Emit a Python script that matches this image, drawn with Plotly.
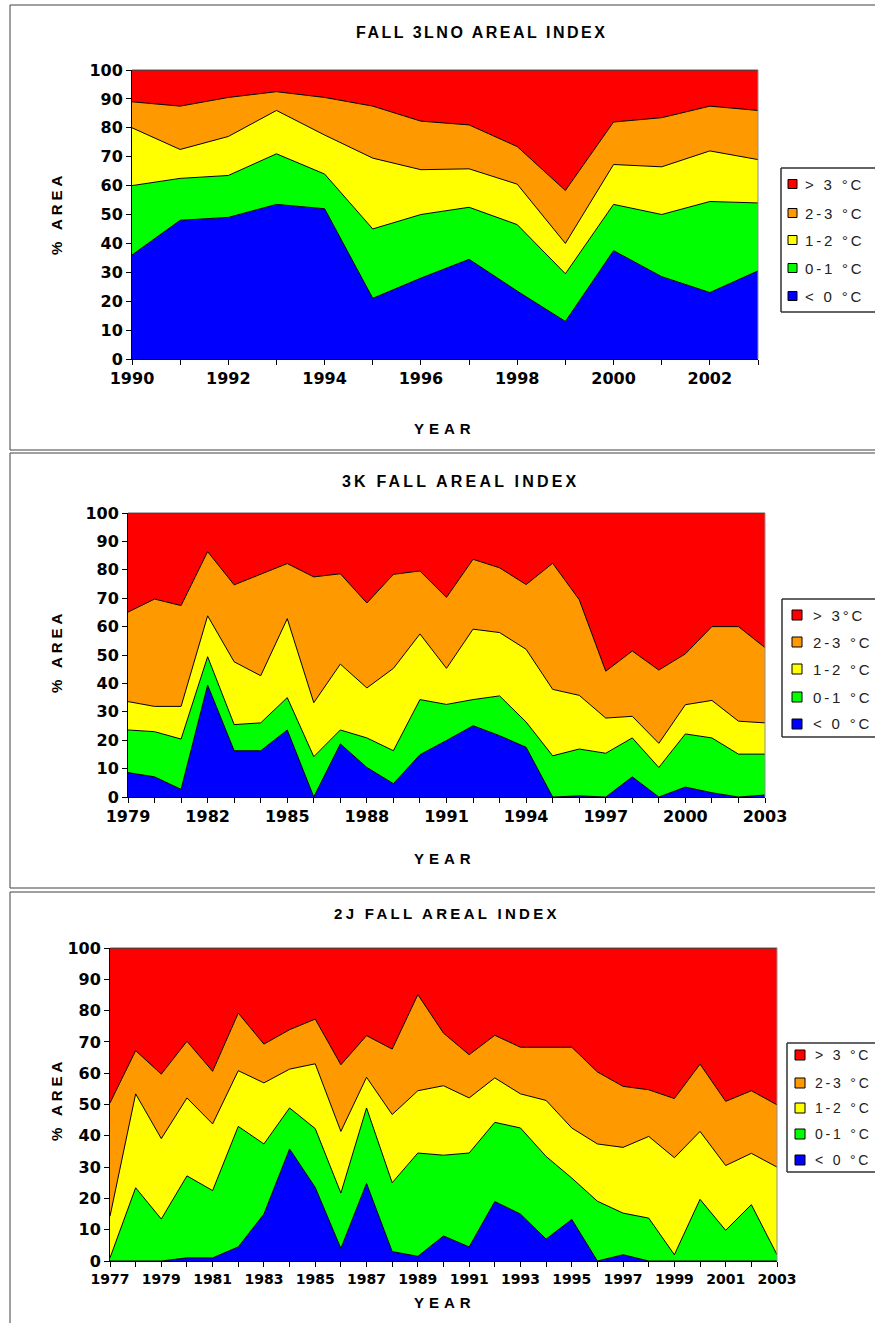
import plotly.graph_objects as go

W, H = 875, 1323

def X(px):
    return min(max(px, 0), W) / W

def Y(py):
    return 1 - min(max(py, 0), H) / H

# ---------------- DATA ----------------
band_names_3lno = ["< 0 °C", "0-1 °C", "1-2 °C", "2-3 °C", "> 3 °C"]
band_names_3k = ["< 0 °C", "0-1 °C", "1-2 °C", "2-3 °C", "> 3°C"]
band_names_2j = ["< 0 °C", "0-1 °C", "1-2 °C", "2-3 °C", "> 3 °C"]
band_colors = ["#0000FF", "#00FF00", "#FFFF00", "#FF9900", "#FF0000"]

# FALL 3LNO
years_3lno = [1990, 1991, 1992, 1993, 1994, 1995, 1996, 1997, 1998, 1999, 2000, 2001, 2002, 2003]
below0_3lno = [36, 48, 49, 53.5, 52, 21, 28, 34.5, 23.5, 13, 37.5, 28.5, 23, 30.5]
b01_3lno = [24, 14.5, 14.5, 17.5, 12, 24, 22, 18, 23, 16.5, 16, 21.5, 31.5, 23.5]
b12_3lno = [20, 10, 13.5, 15, 13.5, 24.5, 15.5, 13.3, 14, 10.5, 13.8, 16.5, 17.5, 15]
b23_3lno = [9, 15, 13.5, 6.5, 13, 18, 16.8, 15.2, 13, 18.3, 14.7, 17, 15.5, 17]
above3_3lno = [11, 12.5, 9.5, 7.5, 9.5, 12.5, 17.7, 19, 26.5, 41.7, 18, 16.5, 12.5, 14]
ticklabels_3lno = ["1990", "", "1992", "", "1994", "", "1996", "", "1998", "", "2000", "", "2002", ""]

# 3K FALL
years_3k = [1979, 1980, 1981, 1982, 1983, 1984, 1985, 1986, 1987, 1988, 1989, 1990, 1991,
            1992, 1993, 1994, 1995, 1996, 1997, 1998, 1999, 2000, 2001, 2002, 2003]
below0_3k = [8.6, 7.1, 2.7, 39.4, 16.3, 16.3, 23.6, 0, 18.7, 10.4, 4.7, 14.9, 19.9,
             25.1, 21.6, 17.5, 0, 0.4, 0, 7.1, 0, 3.5, 1.5, 0, 0.7]
b01_3k = [15.0, 15.9, 17.7, 10.0, 9.2, 9.8, 11.4, 14.2, 4.9, 10.4, 11.6, 19.4, 12.7,
          9.2, 14.0, 8.9, 14.5, 16.5, 15.4, 13.7, 10.4, 18.7, 19.3, 15.1, 14.4]
b12_3k = [10.0, 8.9, 11.5, 14.4, 22.1, 16.6, 27.8, 19.0, 23.2, 17.6, 29.0, 23.1, 12.7,
          24.8, 22.3, 25.6, 23.4, 18.9, 12.4, 7.6, 8.5, 10.3, 13.2, 11.6, 11.0]
b23_3k = [31.5, 37.8, 35.5, 22.6, 27.1, 35.7, 19.4, 44.3, 31.8, 29.9, 33.1, 22.2, 25.0,
          24.6, 22.8, 22.8, 44.4, 33.7, 16.5, 23.0, 25.8, 17.9, 26.0, 33.3, 26.5]
above3_3k = [34.9, 30.3, 32.6, 13.6, 25.3, 21.6, 17.8, 22.5, 21.4, 31.7, 21.6, 20.4, 29.7,
             16.3, 19.3, 25.2, 17.7, 30.5, 55.7, 48.6, 55.3, 49.6, 40.0, 40.0, 47.4]
ticklabels_3k = ["1979", "", "", "1982", "", "", "1985", "", "", "1988", "", "", "1991",
                 "", "", "1994", "", "", "1997", "", "", "2000", "", "", "2003"]

# 2J FALL
years_2j = [1977, 1978, 1979, 1980, 1981, 1982, 1983, 1984, 1985, 1986, 1987, 1988, 1989, 1990,
            1991, 1992, 1993, 1994, 1995, 1996, 1997, 1998, 1999, 2000, 2001, 2002, 2003]
below0_2j = [0, 0, 0, 1, 1, 4.5, 15, 35.8, 23.5, 4, 24.8, 3, 1.5, 8,
             4.5, 19, 15, 7, 13.3, 0, 2, 0, 0, 0, 0, 0, 0]
b01_2j = [1, 23.4, 13.4, 26.2, 21.5, 38.5, 22.4, 13.1, 18.8, 17.7, 24.1, 22, 33, 25.8,
          30, 25.3, 27.5, 26.4, 13.2, 19.1, 13.3, 13.7, 2, 19.7, 9.8, 18, 2]
b12_2j = [13.3, 30, 25.7, 24.9, 21.3, 17.8, 19.5, 12.4, 20.7, 19.7, 9.8, 21.8, 19.9, 22.2,
          17.6, 14.2, 10.9, 17.9, 16, 18.3, 21, 26.1, 31, 21.7, 20.7, 16.4, 28]
b23_2j = [36.2, 13.8, 20.6, 18.1, 16.8, 18.4, 12.4, 12.6, 14.3, 21.3, 13.3, 20.9, 30.7, 16.8,
          13.8, 13.6, 14.9, 17, 25.8, 23, 19.5, 14.9, 18.9, 21.5, 20.5, 20, 19.9]
above3_2j = [49.5, 32.8, 40.3, 29.8, 39.4, 20.8, 30.7, 26.1, 22.7, 37.3, 28, 32.3, 14.9, 27.2,
             34.1, 27.9, 31.7, 31.7, 31.7, 39.6, 44.2, 45.3, 48.1, 37.1, 49, 45.6, 50.1]
ticklabels_2j = ["1977", "", "1979", "", "1981", "", "1983", "", "1985", "", "1987", "", "1989", "",
                 "1991", "", "1993", "", "1995", "", "1997", "", "1999", "", "2001", "", "2003"]

titles = ["FALL 3LNO AREAL INDEX", "3K FALL AREAL INDEX", "2J FALL AREAL INDEX"]
y_title = "% AREA"
x_title = "YEAR"

# ---------------- LAYOUT SPECS ----------------
panels = [
    dict(years=years_3lno, bands=[below0_3lno, b01_3lno, b12_3lno, b23_3lno, above3_3lno],
         names=band_names_3lno, ticktext=ticklabels_3lno,
         plot=(132, 758, 70, 359), box=(10, 5, 450), bottom=True,
         title=(481, 33, 16, 2.5), ytitle=(56, 214), xtitle=(445, 428), xtick_size=16,
         leg=dict(box=(781, 168, 312), sw=(788, 9), tx=803, rows=[184, 213, 240, 268, 296], fs=15)),
    dict(years=years_3k, bands=[below0_3k, b01_3k, b12_3k, b23_3k, above3_3k],
         names=band_names_3k, ticktext=ticklabels_3k,
         plot=(128, 765, 513, 797), box=(10, 453, 888), bottom=True,
         title=(460, 481, 16, 3.2), ytitle=(56, 652), xtitle=(445, 858), xtick_size=16,
         leg=dict(box=(782, 599, 737), sw=(792, 10), tx=811, rows=[615, 642, 669, 697, 724], fs=15)),
    dict(years=years_2j, bands=[below0_2j, b01_2j, b12_2j, b23_2j, above3_2j],
         names=band_names_2j, ticktext=ticklabels_2j,
         plot=(110, 777, 948, 1261), box=(10, 892, 1323), bottom=False,
         title=(447, 913, 15, 3.3), ytitle=(56, 1100), xtitle=(445, 1302), xtick_size=14,
         leg=dict(box=(787, 1043, 1172), sw=(795, 10), tx=813, rows=[1055, 1083, 1108, 1134, 1160], fs=14)),
]


def hline(xa, xb, y, color, width):
    return dict(type="line", xref="paper", yref="paper", x0=X(xa), x1=X(xb), y0=Y(y), y1=Y(y),
                line=dict(color=color, width=width), layer="above")


def vline(x, ya, yb, color, width):
    return dict(type="line", xref="paper", yref="paper", x0=X(x), x1=X(x), y0=Y(ya), y1=Y(yb),
                line=dict(color=color, width=width), layer="above")


fig = go.Figure()
shapes = []
annotations = []
layout_axes = {}

for i, p in enumerate(panels):
    n = "" if i == 0 else str(i + 1)
    xa, ya = "x" + n, "y" + n
    x0, x1, y0, y1 = p["plot"]
    for vals, name, color in zip(p["bands"], p["names"], band_colors):
        fig.add_trace(go.Scatter(
            x=p["years"], y=vals, name=name, stackgroup="g" + str(i),
            mode="lines", line=dict(color="black", width=1), fillcolor=color,
            xaxis=xa, yaxis=ya, showlegend=False, hoverinfo="x+y+name"))

    layout_axes["xaxis" + n] = dict(
        domain=[X(x0), X(x1)], range=[p["years"][0], p["years"][-1]], anchor=ya,
        tickmode="array", tickvals=p["years"], ticktext=p["ticktext"],
        ticks="outside", ticklen=5, tickwidth=1, tickcolor="black",
        showline=True, linecolor="black", linewidth=1, showgrid=False, zeroline=False,
        automargin=False,
        tickfont=dict(family="DejaVu Sans", size=p["xtick_size"], color="black", weight="bold"))
    layout_axes["yaxis" + n] = dict(
        domain=[Y(y1), Y(y0)], range=[0, 100], anchor=xa,
        tickmode="linear", tick0=0, dtick=10,
        ticks="outside", ticklen=5, tickwidth=1, tickcolor="black",
        showline=True, linecolor="black", linewidth=1, showgrid=False, zeroline=False,
        automargin=False,
        tickfont=dict(family="DejaVu Sans", size=16, color="black", weight="bold"))

    # plot-area top/right border
    shapes.append(hline(x0, x1, y0, "#606060", 1))
    shapes.append(vline(x1, y0, y1, "#909090", 1))

    # panel frame (right side runs off the picture)
    bx0, by0, by1 = p["box"]
    shapes.append(hline(bx0, W, by0, "#404040", 1))
    shapes.append(vline(bx0, by0, by1, "#404040", 1))
    if p["bottom"]:
        shapes.append(hline(bx0, W, by1, "#404040", 1))

    # titles
    tx, ty, tfs, tls = p["title"]
    annotations.append(dict(xref="paper", yref="paper", x=X(tx), y=Y(ty), showarrow=False,
                            xanchor="center", yanchor="middle",
                            text=f"<span style='letter-spacing:{tls}px'>{titles[i]}</span>",
                            font=dict(family="Liberation Sans", size=tfs, color="black", weight="bold")))
    yx, yy = p["ytitle"]
    annotations.append(dict(xref="paper", yref="paper", x=X(yx), y=Y(yy), showarrow=False,
                            xanchor="center", yanchor="middle", textangle=-90,
                            text=f"<span style='letter-spacing:4px'>{y_title}</span>",
                            font=dict(family="Liberation Sans", size=15, color="black", weight="bold")))
    xx, xy = p["xtitle"]
    annotations.append(dict(xref="paper", yref="paper", x=X(xx), y=Y(xy), showarrow=False,
                            xanchor="center", yanchor="middle",
                            text=f"<span style='letter-spacing:5px'>{x_title}</span>",
                            font=dict(family="Liberation Sans", size=15, color="black", weight="bold")))

    # legend (box runs off the right edge)
    lg = p["leg"]
    lx0, ly0, ly1 = lg["box"]
    shapes.append(dict(type="rect", xref="paper", yref="paper", x0=X(lx0), x1=X(W), y0=Y(ly1), y1=Y(ly0),
                       line=dict(width=0), fillcolor="white", layer="above"))
    shapes.append(hline(lx0, W, ly0, "#303030", 1.5))
    shapes.append(hline(lx0, W, ly1, "#303030", 1.5))
    shapes.append(vline(lx0, ly0, ly1, "#303030", 1.5))
    swx, sws = lg["sw"]
    for row_y, name, color in zip(lg["rows"], p["names"][::-1], band_colors[::-1]):
        shapes.append(dict(type="rect", xref="paper", yref="paper",
                           x0=X(swx), x1=X(swx + sws), y0=Y(row_y + sws / 2), y1=Y(row_y - sws / 2),
                           line=dict(color="black", width=1), fillcolor=color, layer="above"))
        annotations.append(dict(xref="paper", yref="paper", x=X(lg["tx"]), y=Y(row_y), showarrow=False,
                                xanchor="left", yanchor="middle",
                                text=f"<span style='letter-spacing:2.8px'>{name}</span>",
                                font=dict(family="Liberation Sans", size=lg["fs"], color="#222222")))

fig.update_layout(
    width=W, height=H, margin=dict(l=0, r=0, t=0, b=0, autoexpand=False),
    paper_bgcolor="white", plot_bgcolor="white",
    shapes=shapes, annotations=annotations, showlegend=False,
    **layout_axes)

fig.write_html(
    "out.html",
    config={"displayModeBar": False, "staticPlot": True},
    post_script="document.body.style.margin='0';document.body.style.padding='0';"
                "document.body.style.overflow='hidden';")
